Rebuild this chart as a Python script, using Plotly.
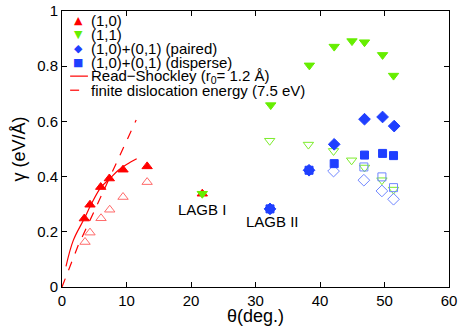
import plotly.graph_objects as go

# misorientation angle (deg.) and grain boundary energy (eV/Å)
theta_10 = [3.46, 4.34, 6.0, 7.34, 9.46, 13.2, 21.75]
gamma_10 = [0.248, 0.298, 0.362, 0.393, 0.425, 0.437, 0.338]
theta_10_open = [3.57, 4.34, 6.05, 7.4, 9.46, 13.2]
gamma_10_open = [0.163, 0.197, 0.249, 0.280, 0.326, 0.380]

theta_11 = [21.75, 32.36, 38.35, 42.2, 44.96, 46.9, 49.7, 51.4]
gamma_11 = [0.338, 0.659, 0.803, 0.871, 0.891, 0.887, 0.841, 0.766]
theta_11_open = [32.2, 38.2, 42.1, 44.9, 46.9, 49.6, 51.4]
gamma_11_open = [0.530, 0.516, 0.493, 0.459, 0.433, 0.387, 0.353]

theta_paired = [32.25, 38.3, 42.2, 46.9, 49.7, 51.5]
gamma_paired = [0.283, 0.423, 0.517, 0.608, 0.616, 0.583]
theta_paired_open = [42.1, 46.8, 49.6, 51.4]
gamma_paired_open = [0.420, 0.387, 0.348, 0.318]

theta_disp = [32.25, 38.3, 42.2, 46.9, 49.7, 51.4]
gamma_disp = [0.283, 0.423, 0.447, 0.478, 0.484, 0.476]
theta_disp_open = [46.8, 49.6, 51.4]
gamma_disp_open = [0.435, 0.399, 0.360]

# curves
theta_rs = [0.62, 1.75, 3.46, 4.45, 6.0, 7.34, 8.73, 10.0, 11.58]
gamma_rs = [0.075, 0.169, 0.248, 0.296, 0.360, 0.391, 0.423, 0.444, 0.465]
theta_fd = [0.0, 2.5, 5.0, 7.5, 10.0, 11.5]
gamma_fd = [0.0, 0.15, 0.275, 0.40, 0.53, 0.605]

legend_labels = ["(1,0)", "(1,1)", "(1,0)+(0,1) (paired)", "(1,0)+(0,1) (disperse)",
                 "Read\u2212Shockley (r<sub>0</sub>= 1.2 Å)", "finite dislocation energy (7.5 eV)"]

RED = "#ff0000"
RED_L = "#ff6a6a"
GREEN = "#66ee00"
GREEN_L = "#7cec2c"
BLUE = "#1f3fff"
BLUE_L = "#6f86ff"
FONT = "Liberation Sans, Arial, sans-serif"

fig = go.Figure()


def pts(x, y, sym, color, size, open_=False):
    fig.add_trace(go.Scatter(
        x=x, y=y, mode="markers", showlegend=False,
        marker=dict(symbol=sym + ("-open" if open_ else ""), color=color, size=size,
                    line=dict(width=1, color=color)),
    ))


# open (hollow) sets first so the filled ones sit on top
pts(theta_10_open, gamma_10_open, "triangle-up", RED_L, 9, open_=True)
pts(theta_11_open, gamma_11_open, "triangle-down", GREEN_L, 9, open_=True)
pts(theta_paired_open, gamma_paired_open, "diamond", BLUE_L, 9, open_=True)
pts(theta_disp_open, gamma_disp_open, "square", BLUE_L, 8, open_=True)

pts(theta_10, gamma_10, "triangle-up", RED, 9)
pts(theta_11, gamma_11, "triangle-down", GREEN, 9)
pts(theta_paired, gamma_paired, "diamond", BLUE, 9)
pts(theta_disp, gamma_disp, "square", BLUE, 8)

fig.add_trace(go.Scatter(x=theta_rs, y=gamma_rs, mode="lines", showlegend=False,
                         line=dict(color=RED, width=1.2, shape="spline")))
fig.add_trace(go.Scatter(x=theta_fd, y=gamma_fd, mode="lines", showlegend=False,
                         line=dict(color=RED, width=1.2, dash="dash")))

fig.add_annotation(x=21.7, y=0.28, text="LAGB I", showarrow=False)
fig.add_annotation(x=32.7, y=0.236, text="LAGB II", showarrow=False)

# compact legend (tighter rows than plotly's own legend allows)
glyphs = [("▲", RED), ("▼", GREEN), ("◆", BLUE), ("■", BLUE)]
row_y = [0.966, 0.916, 0.865, 0.814, 0.764, 0.713]
for i, label in enumerate(legend_labels):
    fig.add_annotation(xref="paper", yref="paper", x=0.07, y=row_y[i], text=label,
                       showarrow=False, xanchor="left", yanchor="middle")
    if i < 4:
        g, c = glyphs[i]
        fig.add_annotation(xref="paper", yref="paper", x=0.042, y=row_y[i], text=g,
                           showarrow=False, xanchor="center", yanchor="middle",
                           font=dict(size=11, color=c, family="DejaVu Sans"))
    else:
        fig.add_shape(type="line", xref="paper", yref="paper", x0=0.021, x1=0.067,
                      y0=row_y[i], y1=row_y[i],
                      line=dict(color=RED, width=1.2, dash="solid" if i == 4 else "dash"))

axis = dict(showline=True, linecolor="black", linewidth=1, mirror="ticks",
            ticks="inside", ticklen=5, tickcolor="black", showgrid=False,
            zeroline=False, tickfont=dict(size=15), automargin=False)
fig.update_xaxes(range=[0, 60], dtick=10, title=dict(text="θ(deg.)", standoff=0), **axis)
fig.update_yaxes(range=[0, 1], dtick=0.2, tickformat="~g",
                 title=dict(text="γ (eV/Å)", standoff=6), **axis)

fig.update_layout(
    width=463, height=326,
    margin=dict(l=62, r=14, t=11, b=39),
    plot_bgcolor="white", paper_bgcolor="white",
    font=dict(family=FONT, size=15, color="black"),
    showlegend=False,
)

# drop the browser's default 8px body margin so the figure sits at the page corner
fig.write_html("out.html", config={"displayModeBar": False},
               post_script="document.body.style.margin='0px';")
